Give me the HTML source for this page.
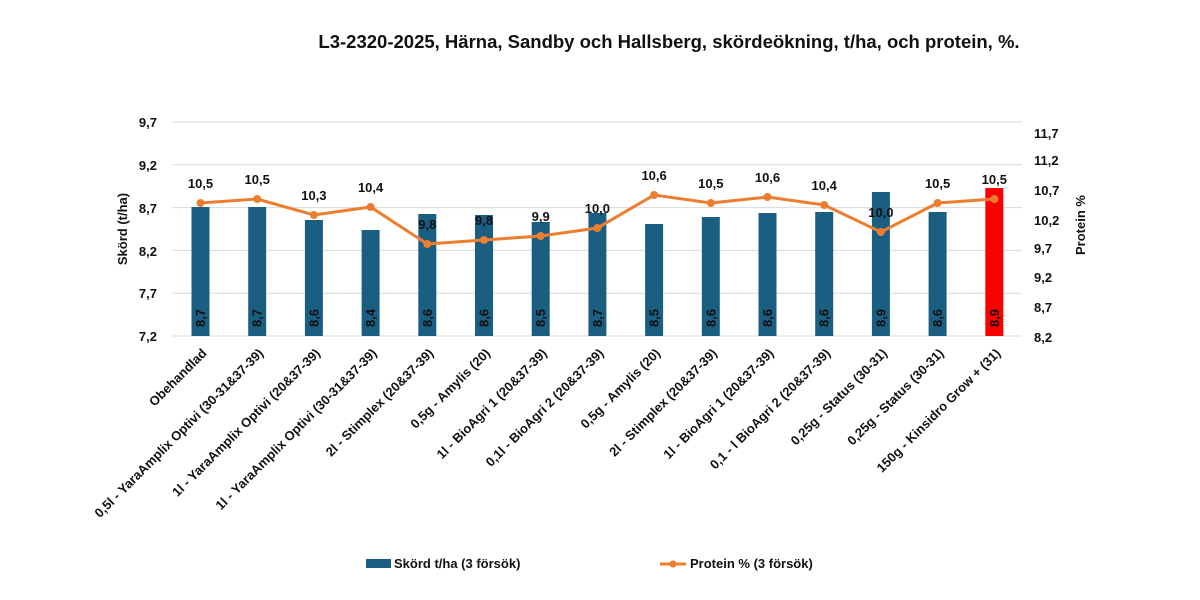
<!DOCTYPE html>
<html><head><meta charset="utf-8"><style>
body{margin:0;background:#fff}
svg{display:block}
text{font-family:"Liberation Sans",sans-serif;font-weight:bold;fill:#111}
</style></head><body>
<svg width="1200" height="600" viewBox="0 0 1200 600" xmlns="http://www.w3.org/2000/svg">
<text x="669" y="48" font-size="18.5" text-anchor="middle">L3-2320-2025, Härna, Sandby och Hallsberg, skördeökning, t/ha, och protein, %.</text>
<g stroke="#d9d9d9" stroke-width="1">
<line x1="172" y1="122" x2="1022" y2="122"/><line x1="172" y1="164.8" x2="1022" y2="164.8"/>
<line x1="172" y1="207.6" x2="1022" y2="207.6"/><line x1="172" y1="250.4" x2="1022" y2="250.4"/>
<line x1="172" y1="293.2" x2="1022" y2="293.2"/><line x1="172" y1="336" x2="1022" y2="336"/>
</g>
<g font-size="13" text-anchor="end">
<text x="157" y="127">9,7</text><text x="157" y="170">9,2</text><text x="157" y="213">8,7</text>
<text x="157" y="256">8,2</text><text x="157" y="298">7,7</text><text x="157" y="341">7,2</text>
</g>
<g font-size="13" text-anchor="start">
<text x="1034" y="138">11,7</text><text x="1034" y="165">11,2</text><text x="1034" y="195">10,7</text>
<text x="1034" y="225">10,2</text><text x="1034" y="253">9,7</text><text x="1034" y="282">9,2</text>
<text x="1034" y="312">8,7</text><text x="1034" y="342">8,2</text>
</g>
<text transform="translate(127,229) rotate(-90)" font-size="13" text-anchor="middle">Skörd (t/ha)</text>
<text transform="translate(1085,225) rotate(-90)" font-size="13" text-anchor="middle">Protein %</text>
<g id="bars"></g>
<g id="lbl"></g>
<g font-size="13" id="xl"></g>
<rect x="366" y="559" width="25" height="9" fill="#1a5e82"/>
<text x="394" y="568" font-size="13">Skörd t/ha (3 försök)</text>
<line x1="660" y1="564" x2="686" y2="564" stroke="#ed7d31" stroke-width="3"/>
<circle cx="673" cy="564" r="3.5" fill="#ed7d31"/>
<text x="690" y="568" font-size="13">Protein % (3 försök)</text>
<script>
var ns="http://www.w3.org/2000/svg";
function el(t,a,p,txt){var e=document.createElementNS(ns,t);for(var k in a)e.setAttribute(k,a[k]);if(txt)e.textContent=txt;document.getElementById(p).appendChild(e);return e;}
var tops=[207,207,220,230,214,215,222,213,224,217,213,212,192,212,188];
var bl=["8,7","8,7","8,6","8,4","8,6","8,6","8,5","8,7","8,5","8,6","8,6","8,6","8,9","8,6","8,9"];
var py=[203,199,215,207,244,240,236,228,195,203,197,205,232,203,199];
var pl=["10,5","10,5","10,3","10,4","9,8","9,8","9,9","10,0","10,6","10,5","10,6","10,4","10,0","10,5","10,5"];
var names=["Obehandlad","0,5l - YaraAmplix Optivi (30-31&37-39)","1l - YaraAmplix Optivi (20&37-39)","1l - YaraAmplix Optivi (30-31&37-39)","2l - Stimplex (20&37-39)","0,5g - Amylis (20)","1l - BioAgri 1 (20&37-39)","0,1l - BioAgri 2 (20&37-39)","0,5g - Amylis (20)","2l - Stimplex (20&37-39)","1l - BioAgri 1 (20&37-39)","0,1 - l BioAgri 2 (20&37-39)","0,25g - Status (30-31)","0,25g - Status (30-31)","150g - Kinsidro Grow + (31)"];
var pts=[];
for(var i=0;i<15;i++){var cx=200.5+56.7*i;
el("rect",{x:cx-9,y:tops[i],width:18,height:336-tops[i],fill:i==14?"#ff0000":"#1a5e82"},"bars");
el("text",{transform:"translate("+(cx+4.5)+",318) rotate(-90)","font-size":"13","text-anchor":"middle"},"lbl",bl[i]);
el("text",{x:cx,y:py[i]-15,"font-size":"13","text-anchor":"middle"},"lbl",pl[i]);
el("text",{transform:"translate("+(cx+7)+",354) rotate(-45)","text-anchor":"end"},"xl",names[i]);
pts.push(cx+","+py[i]);}
el("polyline",{points:pts.join(" "),fill:"none",stroke:"#ed7d31","stroke-width":"3"},"bars");
for(var i=0;i<15;i++)el("circle",{cx:200.5+56.7*i,cy:py[i],r:4,fill:"#ed7d31"},"bars");
</script>
</svg>
</body></html>
